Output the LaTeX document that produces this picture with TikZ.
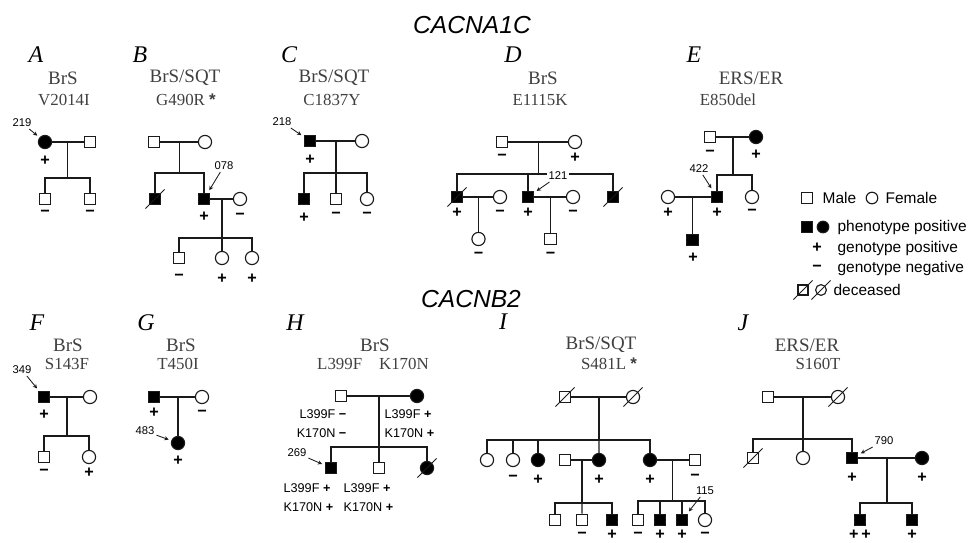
\documentclass[tikz,border=0pt]{standalone}
\usepackage{fontspec}
\setmainfont{Liberation Serif}
\setsansfont{Liberation Sans}
\usepackage{tikz}
\usetikzlibrary{arrows.meta, calc}
\definecolor{pedink}{HTML}{1A1A1A}
\definecolor{labelgrey}{HTML}{404040}

\begin{document}
\begin{tikzpicture}[x=0.025cm, y=-0.025cm, line width=0.9pt, draw=pedink,
    man/.style={draw=pedink, line width=0.8pt, fill=white, minimum size=0.29cm, inner sep=0pt},
    woman/.style={man, circle, minimum size=0.33cm},
    affected/.style={fill=black},
    deceased/.style={append after command={([shift={(-0.24cm,-0.24cm)}]\tikzlastnode.center) edge[line width=0.7pt] ([shift={(0.24cm,0.24cm)}]\tikzlastnode.center)}},
    sign/.style={font=\fontsize{11.5}{11.5}\selectfont\sffamily\bfseries, inner sep=0pt},
    panel/.style={font=\fontsize{17}{20}\selectfont\itshape, inner sep=0pt},
    info/.style={font=\fontsize{12}{13}\selectfont, text=labelgrey, inner sep=0pt},
    trait/.style={info, font=\fontsize{13.5}{15}\selectfont},
    pid/.style={font=\fontsize{8}{9}\selectfont\sffamily, inner sep=1pt},
    geno/.style={font=\fontsize{9}{10}\selectfont\sffamily, inner sep=0pt},
    keytext/.style={font=\fontsize{11}{13}\selectfont\sffamily, anchor=west, inner sep=0pt},
    gene/.style={font=\fontsize{17.5}{20}\selectfont\sffamily\itshape, inner sep=0pt},
    pointer/.style={-{Stealth[length=3pt, width=3pt]}, line width=0.6pt, shorten >=2pt}]
  \useasboundingbox (0,0) rectangle (972,542);

  % Genes
  \node[gene] (cacna) at (472,25) {CACNA1C};
  \node[gene] (cacnb) at (471,299) {CACNB2};

  % Family A
  \node[panel] (lA) at (36,55) {A};
  \node[trait] (tA1) at (63,78) {BrS};
  \node[info] (tA2) at (64,100) {V2014I};
  \node[woman, affected] (a1) at (45,142) {};
  \node[man] (a2) at (90,142) {};
  \node[man] (a3) at (45,199) {};
  \node[man] (a4) at (90,199) {};
  \coordinate (am) at ($(a1)!0.5!(a2)$);
  \coordinate (as) at ($(am)+(0,36)$);
  \draw (a1) -- (a2);
  \draw (am) -- (as);
  \draw (a3) |- (as) -| (a4);
  \node[sign] (a1g) at (45,161) {+};
  \node[sign] (a3g) at (45,213) {−};
  \node[sign] (a4g) at (90,213) {−};
  \node[pid] (p219) at (22,123) {219};
  \draw[pointer] (p219) -- (a1);

  % Family B
  \node[panel] (lB) at (140,55) {B};
  \node[trait] (tB1) at (185,78) {BrS/SQT};
  \node[info] (tB2) at (186,100) {G490R {\sffamily\bfseries *}};
  \node[man] (b1) at (154,142) {};
  \node[woman] (b2) at (205,142) {};
  \node[man, affected, deceased] (b3) at (155,199) {};
  \node[man, affected] (b4) at (204,199) {};
  \node[woman] (b5) at (240,199) {};
  \node[man] (b6) at (179,258) {};
  \node[woman] (b7) at (222,258) {};
  \node[woman] (b8) at (252,258) {};
  \coordinate (bm) at ($(b1)!0.5!(b2)$);
  \coordinate (bs) at ($(bm)+(0,31)$);
  \coordinate (bn) at ($(b4)!0.5!(b5)$);
  \coordinate (bt) at ($(bn)+(0,39)$);
  \draw (b1) -- (b2);
  \draw (bm) -- (bs);
  \draw (b3) |- (bs) -| (b4);
  \draw (b4) -- (b5);
  \draw (bn) -- (bt);
  \draw (b6) |- (bt) -| (b8);
  \draw (bt) -- (b7);
  \node[sign] (b4g) at (204,217) {+};
  \node[sign] (b5g) at (240,216) {−};
  \node[sign] (b6g) at (179,277) {−};
  \node[sign] (b7g) at (222,279) {+};
  \node[sign] (b8g) at (252,279) {+};
  \node[pid] (p078) at (224,166) {078};
  \draw[pointer] (p078) -- (b4);

  % Family C
  \node[panel] (lC) at (289,55) {C};
  \node[trait] (tC1) at (334,78) {BrS/SQT};
  \node[info] (tC2) at (332,100) {C1837Y};
  \node[man, affected] (c1) at (310,141) {};
  \node[woman] (c2) at (362,141) {};
  \node[man, affected] (c3) at (304,199) {};
  \node[man] (c4) at (336,199) {};
  \node[woman] (c5) at (367,199) {};
  \coordinate (cm) at ($(c1)!0.5!(c2)$);
  \coordinate (cs) at ($(cm)+(0,32)$);
  \draw (c1) -- (c2);
  \draw (cm) -- (cs);
  \draw (c3) |- (cs) -| (c5);
  \draw (cs) -- (c4);
  \node[sign] (c1g) at (310,160) {+};
  \node[sign] (c3g) at (304,218) {+};
  \node[sign] (c4g) at (336,215) {−};
  \node[sign] (c5g) at (367,215) {−};
  \node[pid] (p218) at (282,122) {218};
  \draw[pointer] (p218) -- (c1);

  % Family D
  \node[panel] (lD) at (513,55) {D};
  \node[trait] (tD1) at (543,78) {BrS};
  \node[info] (tD2) at (540,100) {E1115K};
  \node[man] (d1) at (502,142) {};
  \node[woman] (d2) at (575,142) {};
  \node[man, affected, deceased] (d3) at (457,197) {};
  \node[woman] (d4) at (500,197) {};
  \node[man, affected] (d5) at (528,197) {};
  \node[woman] (d6) at (573,197) {};
  \node[man, affected, deceased] (d7) at (613,197) {};
  \node[woman] (d8) at (478.5,239) {};
  \node[man] (d9) at (550.5,239) {};
  \coordinate (dm) at ($(d1)!0.5!(d2)$);
  \coordinate (ds) at ($(dm)+(0,32)$);
  \coordinate (dn) at ($(d3)!0.5!(d4)$);
  \coordinate (do) at ($(d5)!0.5!(d6)$);
  \draw (d1) -- (d2);
  \draw (dm) -- (ds);
  \draw (d3) |- (ds) -| (d7);
  \draw (d5) -- (d5 |- ds);
  \draw (d3) -- (d4);
  \draw (dn) -- (d8);
  \draw (d5) -- (d6);
  \draw (do) -- (d9);
  \node[sign] (d1g) at (502,157) {−};
  \node[sign] (d2g) at (575,158) {+};
  \node[sign] (d3g) at (457,213) {+};
  \node[sign] (d4g) at (500,213) {−};
  \node[sign] (d5g) at (528,213) {+};
  \node[sign] (d6g) at (573,213) {−};
  \node[sign] (d8g) at (478.5,255) {−};
  \node[sign] (d9g) at (550.5,255) {−};
  \node[pid, fill=white] (p121) at (558,176) {121};
  \draw[pointer] (p121) -- (d5);

  % Family E
  \node[panel] (lE) at (694,55) {E};
  \node[trait] (tE1) at (751,78) {ERS/ER};
  \node[info] (tE2) at (728,100) {E850del};
  \node[man] (e1) at (710,137) {};
  \node[woman, affected] (e2) at (756,137) {};
  \node[man, affected] (e3) at (717,197) {};
  \node[woman] (e4) at (752,197) {};
  \node[woman] (e5) at (668,197) {};
  \node[man, affected] (e6) at (692.5,240) {};
  \coordinate (em) at ($(e1)!0.5!(e2)$);
  \coordinate (es) at ($(em)+(0,38)$);
  \coordinate (en) at ($(e5)!0.5!(e3)$);
  \draw (e1) -- (e2);
  \draw (em) -- (es);
  \draw (e3) |- (es) -| (e4);
  \draw (e5) -- (e3);
  \draw (en) -- (e6);
  \node[sign] (e1g) at (710,153) {−};
  \node[sign] (e2g) at (756,155) {+};
  \node[sign] (e5g) at (668,213) {+};
  \node[sign] (e3g) at (717,213) {+};
  \node[sign] (e4g) at (752,212) {−};
  \node[sign] (e6g) at (693,258) {+};
  \node[pid] (p422) at (699,169) {422};
  \draw[pointer] (p422) -- (e3);

  % Legend
  \node[man, minimum size=0.27cm] (k1) at (807,198) {};
  \node[keytext] (kt1) at (822,198) {Male};
  \node[woman, minimum size=0.29cm] (k2) at (872,198) {};
  \node[keytext] (kt2) at (885,198) {Female};
  \node[man, affected, minimum size=0.27cm] (k3) at (807,227) {};
  \node[woman, affected, minimum size=0.29cm] (k4) at (823,227) {};
  \node[keytext] (kt3) at (837,227) {phenotype positive};
  \node[sign] (k5) at (817,248) {+};
  \node[keytext] (kt4) at (837,248) {genotype positive};
  \node[sign] (k6) at (817,268) {−};
  \node[keytext] (kt5) at (837,268) {genotype negative};
  \node[man, deceased, minimum size=0.25cm] (k7) at (803,290) {};
  \node[woman, deceased, minimum size=0.27cm] (k8) at (821,290) {};
  \node[keytext] (kt6) at (833,290) {deceased};

  % Family F
  \node[panel] (lF) at (37,323) {F};
  \node[trait] (tF1) at (68,345) {BrS};
  \node[info] (tF2) at (67,364) {S143F};
  \node[man, affected] (f1) at (44,397) {};
  \node[woman] (f2) at (90,397) {};
  \node[man] (f3) at (44,457) {};
  \node[woman] (f4) at (89,457) {};
  \coordinate (fm) at ($(f1)!0.5!(f2)$);
  \coordinate (fs) at ($(fm)+(0,39)$);
  \draw (f1) -- (f2);
  \draw (fm) -- (fs);
  \draw (f3) |- (fs) -| (f4);
  \node[sign] (f1g) at (44,415) {+};
  \node[sign] (f3g) at (44,472) {−};
  \node[sign] (f4g) at (89,473) {+};
  \node[pid] (p349) at (22,370) {349};
  \draw[pointer] (p349) -- (f1);

  % Family G
  \node[panel] (lG) at (146,323) {G};
  \node[trait] (tG1) at (181,345) {BrS};
  \node[info] (tG2) at (178,364) {T450I};
  \node[man, affected] (g1) at (154,397) {};
  \node[woman] (g2) at (202,397) {};
  \node[woman, affected] (g3) at (178,443) {};
  \coordinate (gm) at ($(g1)!0.5!(g2)$);
  \draw (g1) -- (g2);
  \draw (gm) -- (g3);
  \node[sign] (g1g) at (154,413) {+};
  \node[sign] (g2g) at (202,413) {−};
  \node[sign] (g3g) at (178,461) {+};
  \node[pid] (p483) at (145,431) {483};
  \draw[pointer] (p483) -- (g3);

  % Family H
  \node[panel] (lH) at (295,323) {H};
  \node[trait] (tH1) at (375,345) {BrS};
  \node[info] (tH2) at (373,364) {L399F\quad K170N};
  \node[man] (h1) at (341,396) {};
  \node[woman, affected] (h2) at (417,396) {};
  \node[man, affected] (h3) at (331,468) {};
  \node[man] (h4) at (379,468) {};
  \node[woman, affected, deceased] (h5) at (427,468) {};
  \coordinate (hm) at ($(h1)!0.5!(h2)$);
  \coordinate (hs) at ($(hm)+(0,51)$);
  \draw (h1) -- (h2);
  \draw (hm) -- (hs);
  \draw (h3) |- (hs) -| (h5);
  \draw (hs) -- (h4);
  \node[geno, anchor=east] (h1a) at (347,414) {L399F \textbf{−}};
  \node[geno, anchor=east] (h1b) at (347,433) {K170N \textbf{−}};
  \node[geno, anchor=west] (h2a) at (384,414) {L399F \textbf{+}};
  \node[geno, anchor=west] (h2b) at (384,433) {K170N \textbf{+}};
  \node[geno, anchor=west] (h3a) at (283,488) {L399F \textbf{+}};
  \node[geno, anchor=west] (h3b) at (283,507) {K170N \textbf{+}};
  \node[geno, anchor=west] (h4a) at (343,488) {L399F \textbf{+}};
  \node[geno, anchor=west] (h4b) at (343,507) {K170N \textbf{+}};
  \node[pid] (p269) at (297,453) {269};
  \draw[pointer] (p269) -- (h3);

  % Family I
  \node[panel] (lI) at (503,322) {I};
  \node[trait] (tI1) at (601,345) {BrS/SQT};
  \node[info] (tI2) at (609,364) {S481L {\sffamily\bfseries *}};
  \node[man, deceased] (i1) at (565,397) {};
  \node[woman, deceased] (i2) at (633,397) {};
  \node[woman] (i3) at (487,460) {};
  \node[woman] (i4) at (513,460) {};
  \node[woman, affected] (i5) at (538,460) {};
  \node[man] (i6) at (565,460) {};
  \node[woman, affected] (i7) at (599,460) {};
  \node[woman, affected] (i8) at (650,460) {};
  \node[man] (i9) at (695,460) {};
  \node[man] (i10) at (555,520) {};
  \node[man] (i11) at (582,520) {};
  \node[man, affected] (i12) at (612,520) {};
  \node[man] (i13) at (638,520) {};
  \node[man, affected] (i14) at (660,520) {};
  \node[man, affected] (i15) at (682,520) {};
  \node[woman] (i16) at (705,520) {};
  \coordinate (im) at ($(i1)!0.5!(i2)$);
  \coordinate (is) at ($(im)+(0,43)$);
  \coordinate (in) at ($(i6)!0.5!(i7)$);
  \coordinate (it) at ($(in)+(0,43)$);
  \coordinate (io) at ($(i8)!0.5!(i9)$);
  \coordinate (iu) at ($(io)+(0,41)$);
  \draw (i1) -- (i2);
  \draw (im) -- (is);
  \draw (i3) |- (is) -| (i8);
  \draw (i4) -- (i4 |- is);
  \draw (i5) -- (i5 |- is);
  \draw (is) -- (i7);
  \draw (i6) -- (i7);
  \draw (in) -- (it);
  \draw (i10) |- (it) -| (i12);
  \draw (it) -- (i11);
  \draw (i8) -- (i9);
  \draw (io) -- (iu);
  \draw (i13) |- (iu) -| (i16);
  \draw (i14) -- (i14 |- iu);
  \draw (i15) -- (i15 |- iu);
  \node[sign] (i4g) at (513,478) {−};
  \node[sign] (i5g) at (538,480) {+};
  \node[sign] (i7g) at (599,480) {+};
  \node[sign] (i8g) at (650,480) {+};
  \node[sign] (i9g) at (695,477) {−};
  \node[sign] (i11g) at (582,535) {−};
  \node[sign] (i12g) at (612,535) {+};
  \node[sign] (i13g) at (638,535) {−};
  \node[sign] (i14g) at (660,535) {+};
  \node[sign] (i15g) at (682,535) {+};
  \node[sign] (i16g) at (705,535) {−};
  \node[pid] (p115) at (705,491) {115};
  \draw[pointer] (p115) -- (i15);

  % Family J
  \node[panel] (lJ) at (743,323) {J};
  \node[trait] (tJ1) at (807,345) {ERS/ER};
  \node[info] (tJ2) at (818,364) {S160T};
  \node[man] (j1) at (768,397) {};
  \node[woman, deceased] (j2) at (838,397) {};
  \node[man, deceased] (j3) at (753,458) {};
  \node[woman] (j4) at (803,458) {};
  \node[man, affected] (j5) at (852,458) {};
  \node[woman, affected] (j6) at (922,458) {};
  \node[man, affected] (j7) at (860,520) {};
  \node[man, affected] (j8) at (912,520) {};
  \coordinate (jm) at ($(j1)!0.5!(j2)$);
  \coordinate (js) at ($(jm)+(0,42)$);
  \coordinate (jn) at ($(j5)!0.5!(j6)$);
  \coordinate (jt) at ($(jn)+(0,45)$);
  \draw (j1) -- (j2);
  \draw (jm) -- (js);
  \draw (j3) |- (js) -| (j5);
  \draw (js) -- (j4);
  \draw (j5) -- (j6);
  \draw (jn) -- (jt);
  \draw (j7) |- (jt) -| (j8);
  \node[sign] (j5g) at (852,478) {+};
  \node[sign] (j6g) at (922,478) {+};
  \node[sign] (j7g) at (860,535) {+\,+};
  \node[sign] (j8g) at (912,535) {+};
  \node[pid] (p790) at (884,441) {790};
  \draw[pointer] (p790) -- (j5);
\end{tikzpicture}
\end{document}
